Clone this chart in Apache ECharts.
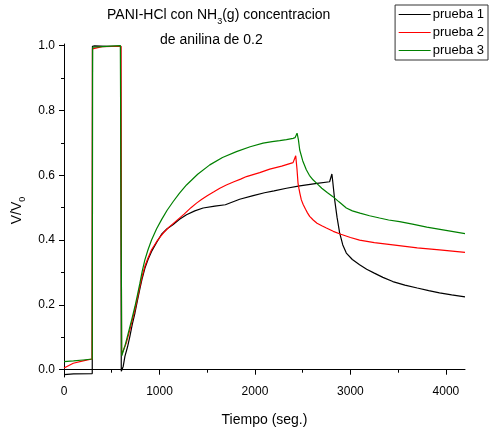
<!DOCTYPE html>
<html>
<head>
<meta charset="utf-8">
<script src="https://cdn.jsdelivr.net/npm/echarts@6/dist/echarts.min.js"></script>
<style>
  html, body { margin: 0; padding: 0; background: #fff; }
  #main { width: 490px; height: 434px; }
</style>
</head>
<body>
<div id="main"></div>
<script>
// prueba 1 (black)
var p1T = [0, 100, 296, 298, 320, 450, 594, 600, 610, 620, 638, 665, 690, 715, 743, 770, 795, 820, 847, 880, 917, 970, 1022, 1080, 1144, 1210, 1283, 1370, 1457, 1580, 1690, 1705, 1840, 1981, 2100, 2200, 2330, 2469, 2650, 2782, 2795, 2806, 2815, 2835, 2860, 2887, 2920, 2957, 3020, 3096, 3170, 3250, 3340, 3444, 3570, 3700, 3820, 3933, 4060, 4200];
var p1V = [-0.015, -0.013, -0.012, 0.998, 0.999, 0.998, 0.998, -0.005, -0.01, 0.01, 0.041, 0.07, 0.103, 0.14, 0.175, 0.215, 0.25, 0.283, 0.313, 0.34, 0.365, 0.393, 0.418, 0.435, 0.448, 0.464, 0.478, 0.49, 0.499, 0.505, 0.509, 0.515, 0.526, 0.537, 0.546, 0.552, 0.56, 0.567, 0.575, 0.58, 0.585, 0.604, 0.58, 0.524, 0.47, 0.422, 0.385, 0.36, 0.34, 0.324, 0.31, 0.298, 0.285, 0.272, 0.261, 0.252, 0.244, 0.237, 0.231, 0.225];
// prueba 2 (red)
var p2T = [0, 20, 97, 200, 294, 298, 310, 400, 597, 603, 620, 655, 690, 715, 743, 770, 795, 820, 847, 880, 917, 970, 1004, 1050, 1100, 1179, 1258, 1330, 1388, 1440, 1500, 1570, 1632, 1700, 1780, 1850, 1911, 1980, 2050, 2155, 2280, 2399, 2415, 2427, 2440, 2451, 2460, 2470, 2486, 2505, 2530, 2550, 2573, 2610, 2650, 2700, 2748, 2820, 2900, 3000, 3096, 3250, 3445, 3700, 3933, 4200];
var p2V = [0.005, 0.01, 0.02, 0.027, 0.033, 0.99, 0.992, 0.997, 0.998, 0.046, 0.049, 0.085, 0.123, 0.152, 0.185, 0.222, 0.257, 0.29, 0.319, 0.345, 0.37, 0.395, 0.408, 0.425, 0.44, 0.46, 0.48, 0.5, 0.514, 0.525, 0.537, 0.549, 0.56, 0.57, 0.58, 0.588, 0.596, 0.602, 0.608, 0.619, 0.628, 0.639, 0.645, 0.66, 0.62, 0.576, 0.56, 0.545, 0.524, 0.51, 0.495, 0.484, 0.473, 0.462, 0.452, 0.444, 0.437, 0.427, 0.418, 0.408, 0.40, 0.392, 0.385, 0.376, 0.37, 0.362];
// prueba 3 (green)
var p3T = [0, 100, 200, 296, 300, 400, 590, 598, 600, 605, 640, 673, 708, 743, 770, 795, 820, 847, 880, 917, 970, 1022, 1080, 1144, 1210, 1283, 1400, 1527, 1660, 1806, 1950, 2085, 2180, 2259, 2330, 2399, 2420, 2441, 2455, 2469, 2500, 2538, 2570, 2608, 2650, 2700, 2760, 2817, 2880, 2957, 3020, 3100, 3200, 3305, 3400, 3515, 3650, 3800, 4000, 4200];
var p3V = [0.025, 0.027, 0.03, 0.033, 0.995, 0.997, 1.0, 1.005, 1.0, 0.043, 0.075, 0.113, 0.153, 0.195, 0.232, 0.267, 0.305, 0.339, 0.37, 0.40, 0.435, 0.463, 0.492, 0.519, 0.545, 0.57, 0.603, 0.632, 0.655, 0.673, 0.688, 0.699, 0.704, 0.707, 0.71, 0.714, 0.716, 0.73, 0.71, 0.678, 0.645, 0.617, 0.6, 0.586, 0.574, 0.56, 0.546, 0.534, 0.518, 0.499, 0.49, 0.483, 0.475, 0.468, 0.462, 0.457, 0.449, 0.44, 0.43, 0.42];

var xMajor = [0, 1000, 2000, 3000, 4000];
var xMinor = [500, 1500, 2500, 3500];
var yMajor = [0, 0.2, 0.4, 0.6, 0.8, 1.0];
var yMinor = [0.1, 0.3, 0.5, 0.7, 0.9];

function pairs(t, v) {
    return t.map(function (x, i) { return [x, v[i]]; });
}

var font = 'Liberation Sans, Arial, sans-serif';

var option = {
    animation: false,
    textStyle: { fontFamily: font },
    graphic: [{
        type: 'text',
        left: 222 - 115,
        top: 8,
        style: {
            text: '{a|PANI-HCl con NH}{s|3}{a|(g) concentracion}',
            width: 230,
            align: 'center',
            rich: {
                a: { fontSize: 14, fontFamily: font, fill: '#000', verticalAlign: 'top', lineHeight: 18 },
                s: { fontSize: 9, fontFamily: font, fill: '#000', verticalAlign: 'top', lineHeight: 12, padding: [9, 0, 0, 0] }
            }
        }
    }, {
        type: 'text',
        left: 220 - 60,
        top: 33,
        style: {
            text: 'de anilina de 0.2',
            width: 120,
            align: 'center',
            fontSize: 14,
            fontFamily: font,
            fill: '#000'
        }
    }],
    legend: {
        data: ['prueba 1', 'prueba 2', 'prueba 3'],
        orient: 'vertical',
        right: 2,
        top: 5,
        padding: [3, 4, 3, 3],
        borderColor: '#333',
        borderWidth: 1,
        itemWidth: 32,
        itemHeight: 14,
        itemGap: 5,
        itemStyle: { opacity: 0 },
        lineStyle: { width: 1.2 },
        textStyle: { fontSize: 13, color: '#000', fontFamily: font, padding: [0, 0, 0, -3] }
    },
    grid: { left: 64, right: 25, top: 44, bottom: 57, containLabel: false },
    xAxis: [{
        type: 'value',
        min: 0,
        max: 4200,
        name: 'Tiempo (seg.)',
        nameLocation: 'middle',
        nameGap: 36,
        nameTextStyle: { fontSize: 14, color: '#000', fontFamily: font },
        axisLine: { lineStyle: { color: '#000', width: 1 } },
        axisTick: { show: true, length: 5, customValues: xMajor, lineStyle: { color: '#000' } },
        axisLabel: {
            customValues: xMajor,
            fontSize: 12,
            color: '#000',
            margin: 9,
            formatter: function (v) { return String(v); }
        },
        splitLine: { show: false }
    }, {
        type: 'value',
        min: 0,
        max: 4200,
        position: 'bottom',
        axisLine: { show: false },
        axisTick: { show: true, length: 3, customValues: xMinor, lineStyle: { color: '#000' } },
        axisLabel: { show: false },
        splitLine: { show: false }
    }],
    yAxis: [{
        type: 'value',
        min: -0.0225,
        max: 1.005,
        name: '{a|V/V}{s|0}',
        nameLocation: 'middle',
        nameRotate: 90,
        nameGap: 27,
        nameTextStyle: {
            rich: {
                a: { fontSize: 14, color: '#000', fontFamily: font, verticalAlign: 'top', lineHeight: 16 },
                s: { fontSize: 9, color: '#000', fontFamily: font, verticalAlign: 'top', lineHeight: 11, padding: [8, 0, 0, 0] }
            }
        },
        axisLine: { show: true, lineStyle: { color: '#000', width: 1 } },
        axisTick: { show: true, length: 5, customValues: yMajor, lineStyle: { color: '#000' } },
        axisLabel: {
            customValues: yMajor,
            fontSize: 12,
            color: '#000',
            margin: 9,
            formatter: function (v) { return v.toFixed(1); }
        },
        splitLine: { show: false }
    }, {
        type: 'value',
        min: -0.0225,
        max: 1.005,
        position: 'left',
        axisLine: { show: false },
        axisTick: { show: true, length: 3, customValues: yMinor, lineStyle: { color: '#000' } },
        axisLabel: { show: false },
        splitLine: { show: false }
    }],
    series: [
        {
            name: 'prueba 1',
            type: 'line',
            symbol: 'none',
            color: '#000000',
            lineStyle: { width: 1.2 },
            data: pairs(p1T, p1V)
        },
        {
            name: 'prueba 2',
            type: 'line',
            symbol: 'none',
            color: '#ff0000',
            lineStyle: { width: 1.2 },
            data: pairs(p2T, p2V)
        },
        {
            name: 'prueba 3',
            type: 'line',
            symbol: 'none',
            color: '#008000',
            lineStyle: { width: 1.2 },
            data: pairs(p3T, p3V)
        }
    ]
};

var myChart = echarts.init(document.getElementById('main'));
myChart.setOption(option);
</script>
</body>
</html>
